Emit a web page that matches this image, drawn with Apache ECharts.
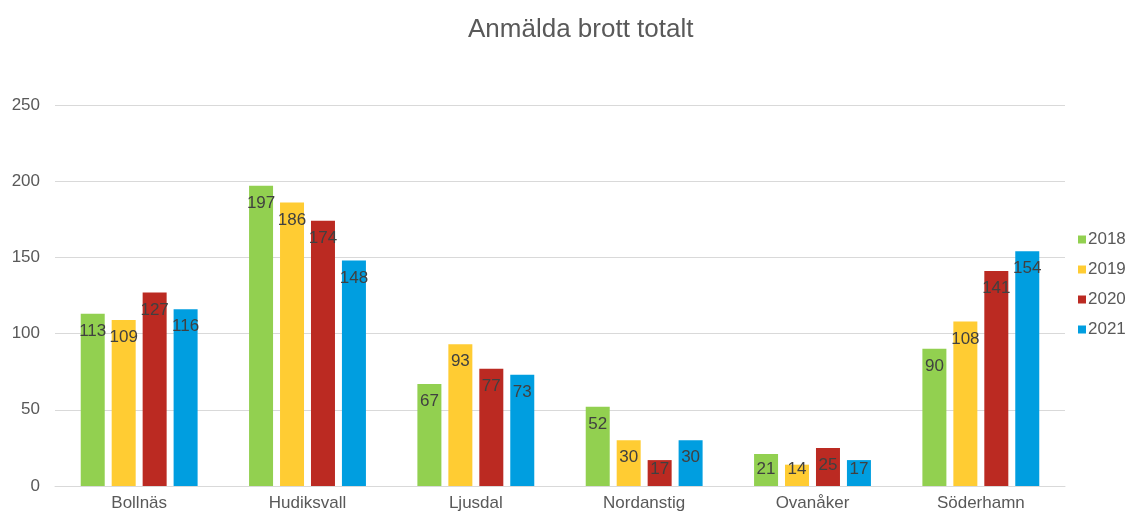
<!DOCTYPE html>
<html><head><meta charset="utf-8">
<script src="https://cdn.jsdelivr.net/npm/echarts@6/dist/echarts.min.js"></script>
<style>html,body{margin:0;padding:0;background:#fff}#c{width:1126px;height:515px}</style>
</head><body><div id="c"></div>
<script>
const categories = ["Bollnäs","Hudiksvall","Ljusdal","Nordanstig","Ovanåker","Söderhamn"];
const years = ["2018","2019","2020","2021"];
const v2018 = [113,197,67,52,21,90];
const v2019 = [109,186,93,30,14,108];
const v2020 = [127,174,77,17,25,141];
const v2021 = [116,148,73,30,17,154];
const yTicks = [0,50,100,150,200,250];
const colors = ["#92d050","#ffcc33","#bb2a22","#009ee0"];
const seriesVals = [v2018,v2019,v2020,v2021];
const font = "'Liberation Sans', Arial, sans-serif";
const chart = echarts.init(document.getElementById('c'));
chart.setOption({
  animation:false,
  textStyle:{fontFamily:font},
  title:{text:"Anmälda brott totalt",left:463,top:12,textStyle:{fontFamily:font,fontSize:26,fontWeight:'normal',color:'#595959'}},
  legend:{orient:'vertical',left:1073,top:226,itemWidth:8,itemHeight:8,itemGap:13,icon:'rect',
    textStyle:{fontFamily:font,fontSize:17,color:'#595959',padding:[0,0,0,-3]},data:years},
  grid:{left:55,right:61,top:105,bottom:29},
  xAxis:{type:'category',data:categories,axisTick:{show:false},
    axisLine:{lineStyle:{color:'#d9d9d9',width:1}},
    axisLabel:{fontFamily:font,fontSize:17,color:'#595959',margin:9}},
  yAxis:{type:'value',min:yTicks[0],max:yTicks[yTicks.length-1],interval:50,
    axisLine:{show:false},axisTick:{show:false},
    splitLine:{lineStyle:{color:'#d9d9d9',width:1}},
    axisLabel:{fontFamily:font,fontSize:17,color:'#595959',margin:15}},
  series: years.map((y,i)=>({
    name:y,type:'bar',barWidth:24,barGap:'29%',
    itemStyle:{color:colors[i]},
    data: seriesVals[i].map(v=>({value:v,label:{position: v<23?'insideBottom':'insideTop',distance: v<23?8:9}})),
    label:{show:true,fontFamily:font,fontSize:17,color:'#404040'}
  }))
});
</script></body></html>
